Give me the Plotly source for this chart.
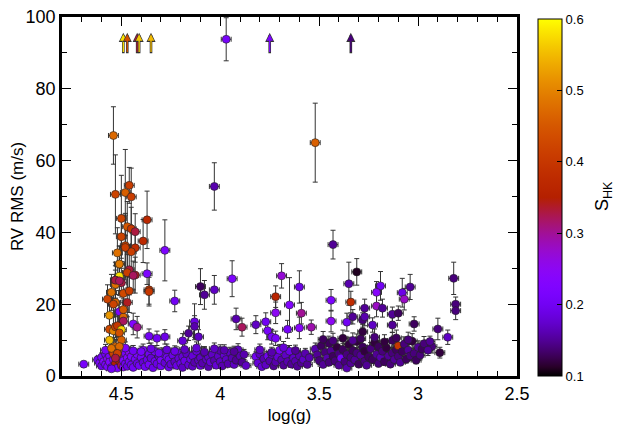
import math
import plotly.graph_objects as go

# --- upper / active stars ---
up_logg = [4.54, 4.53, 4.48, 4.46, 4.45, 4.50, 4.37, 4.47, 4.45, 4.43, 4.50, 4.28, 4.39,
           4.48, 4.43, 4.45, 4.52, 4.51, 4.03, 4.37, 4.51, 4.47, 4.43, 4.46, 4.53, 4.50,
           4.53, 4.10, 4.03, 3.94, 4.36, 3.52, 3.43, 3.97,
           4.36, 4.23, 4.08, 4.13, 4.13, 4.16, 4.11, 4.36, 4.32, 4.28, 4.19, 4.69,
           4.57, 4.55, 4.56, 4.56, 4.56, 4.55, 4.54, 4.53, 4.53, 4.51, 4.47, 4.44,
           4.49, 4.46, 4.47, 4.51, 4.49, 4.49, 4.44, 4.42, 4.52, 4.50, 4.51, 4.50,
           4.51, 4.52, 4.53, 4.51, 4.53, 4.54, 4.49, 4.48,
           3.31, 3.35, 3.69, 3.60, 3.72, 3.65, 3.72, 3.59, 3.44, 3.34, 3.44, 3.92,
           3.89, 3.82, 3.77, 3.76, 3.74, 3.72, 3.66, 3.60, 3.54, 3.36, 3.27, 3.28,
           3.33, 3.28,
           2.82, 2.81, 2.81, 3.19, 3.21, 3.04, 3.08, 3.07, 3.21, 3.18, 3.27, 3.13,
           3.10, 3.02, 2.90, 2.85, 2.94, 2.89, 2.95, 3.13, 3.23]
up_rms = [67.0, 50.6, 51.1, 53.1, 49.9, 43.9, 43.5, 41.6, 41.0, 40.2, 38.8, 35.0, 37.6,
          36.3, 35.7, 34.6, 34.3, 31.2, 52.8, 28.5, 27.8, 28.8, 28.1, 29.6, 26.7, 26.0,
          25.5, 24.9, 24.0, 27.1, 24.0, 65.0, 36.6, 93.8,
          23.5, 20.9, 22.6, 15.1, 13.8, 11.9, 10.9, 11.1, 10.5, 10.9, 9.8, 3.3,
          21.4, 23.3, 16.9, 13.0, 10.0, 7.7, 12.6, 13.7, 26.7, 31.2, 28.8, 28.0,
          23.0, 23.7, 20.5, 17.9, 16.4, 15.3, 14.5, 13.6, 14.0, 12.9, 12.0, 10.0,
          8.2, 6.3, 5.0, 26.5, 20.5, 20.0, 18.5, 35.8,
          29.0, 25.7, 27.9, 24.8, 22.1, 19.8, 17.6, 17.5, 21.1, 20.6, 15.3, 15.9,
          13.6, 14.3, 15.1, 12.6, 10.9, 10.5, 13.0, 13.4, 13.6, 15.0, 18.9, 15.6,
          16.5, 12.3,
          27.2, 20.0, 18.2, 25.1, 23.3, 24.8, 23.2, 21.4, 19.5, 18.9, 16.5, 17.2,
          17.5, 14.5, 13.1, 10.8, 9.6, 6.5, 7.2, 14.2, 14.2]
up_err = [8.0, 11.0, 12.0, 5.0, 8.0, 12.0, 8.0, 7.0, 6.0, 5.0, 6.0, 8.5, 6.0,
          9.0, 4.0, 6.0, 7.0, 5.0, 6.6, 3.0, 4.0, 6.0, 5.0, 7.0, 5.0, 4.0,
          4.0, 5.0, 4.0, 5.0, 4.0, 11.0, 4.0, 6.0,
          4.0, 3.0, 4.0, 5.0, 3.0, 2.0, 2.0, 2.0, 2.0, 2.0, 2.0, 0.8,
          4.0, 5.0, 3.0, 3.0, 3.0, 3.0, 4.0, 3.0, 4.0, 5.0, 5.0, 4.0,
          5.0, 6.0, 4.0, 3.0, 4.0, 3.0, 3.0, 3.0, 3.0, 3.0, 3.0, 2.5,
          2.0, 2.0, 1.5, 4.0, 4.0, 3.0, 3.0, 9.0,
          3.7, 6.0, 3.4, 4.5, 3.0, 7.6, 3.0, 3.0, 3.0, 3.0, 3.0, 3.0,
          2.5, 2.5, 2.5, 2.5, 2.0, 2.0, 2.5, 3.0, 2.0, 2.5, 2.5, 2.0,
          2.0, 2.0,
          4.5, 2.0, 2.5, 4.0, 3.0, 3.5, 4.0, 3.0, 3.0, 2.5, 2.5, 2.0,
          2.0, 2.0, 3.0, 2.0, 1.5, 1.5, 1.5, 2.0, 2.0]
up_shk = [0.47, 0.42, 0.46, 0.41, 0.41, 0.42, 0.37, 0.45, 0.40, 0.33, 0.42, 0.22, 0.37,
          0.42, 0.38, 0.41, 0.48, 0.49, 0.16, 0.22, 0.58, 0.41, 0.34, 0.33, 0.34, 0.33,
          0.48, 0.13, 0.17, 0.22, 0.40, 0.46, 0.15, 0.21,
          0.40, 0.20, 0.15, 0.19, 0.16, 0.15, 0.17, 0.20, 0.20, 0.19, 0.18, 0.21,
          0.42, 0.48, 0.52, 0.43, 0.55, 0.48, 0.50, 0.42, 0.33, 0.49, 0.41, 0.32,
          0.43, 0.41, 0.34, 0.22, 0.47, 0.32, 0.23, 0.30, 0.40, 0.57, 0.44, 0.46,
          0.47, 0.42, 0.33, 0.32, 0.47, 0.42, 0.45, 0.41,
          0.11, 0.16, 0.27, 0.19, 0.36, 0.23, 0.25, 0.30, 0.22, 0.38, 0.25, 0.16,
          0.32, 0.17, 0.20, 0.21, 0.21, 0.21, 0.21, 0.24, 0.29, 0.20, 0.15, 0.14,
          0.15, 0.12,
          0.14, 0.14, 0.14, 0.20, 0.24, 0.15, 0.19, 0.28, 0.28, 0.15, 0.16, 0.15,
          0.13, 0.13, 0.14, 0.17, 0.15, 0.12, 0.15, 0.15, 0.17]

# --- dense low-RMS band ---
band_logg = [4.62, 4.61, 4.60, 4.60, 4.59, 4.58, 4.58, 4.57, 4.57, 4.56, 4.56, 4.55, 4.55,
             4.54, 4.54, 4.53, 4.53, 4.52, 4.52, 4.51, 4.51, 4.50, 4.50, 4.50, 4.49, 4.49,
             4.48, 4.48, 4.47, 4.47, 4.46, 4.46, 4.45, 4.45,
             4.44, 4.43, 4.42, 4.42, 4.41, 4.40, 4.39, 4.39, 4.38, 4.37, 4.36, 4.36, 4.35,
             4.34, 4.33, 4.33, 4.32, 4.31, 4.30, 4.30, 4.29, 4.28, 4.27, 4.26, 4.26, 4.25,
             4.24, 4.23, 4.22, 4.22, 4.21, 4.20, 4.19, 4.19, 4.18, 4.17, 4.16, 4.15, 4.14,
             4.14, 4.13, 4.12, 4.11, 4.10, 4.10, 4.09, 4.08, 4.07, 4.06, 4.06, 4.05,
             4.04, 4.03, 4.02, 4.01, 4.00, 4.00, 3.99, 3.98, 3.97, 3.96, 3.95, 3.94, 3.93,
             3.92, 3.91, 3.90, 3.89, 3.88, 3.87,
             3.82, 3.81, 3.80, 3.79, 3.78, 3.77, 3.76, 3.75, 3.74, 3.73, 3.72, 3.71, 3.70,
             3.69, 3.68, 3.67, 3.66, 3.65, 3.64, 3.63, 3.62, 3.61, 3.60, 3.59, 3.58, 3.57,
             3.56, 3.55,
             3.52, 3.51, 3.50, 3.49, 3.48, 3.47, 3.46, 3.45, 3.45, 3.44, 3.43, 3.42, 3.41,
             3.40, 3.40, 3.39, 3.38, 3.37, 3.36, 3.36, 3.35, 3.34, 3.34, 3.33, 3.32, 3.31,
             3.31, 3.30, 3.29, 3.28, 3.27, 3.27, 3.26, 3.25,
             3.24, 3.23, 3.22, 3.21, 3.20, 3.20, 3.19, 3.18, 3.17, 3.16, 3.15, 3.14, 3.13,
             3.13, 3.12, 3.11, 3.10, 3.10, 3.09, 3.08, 3.07, 3.06, 3.05, 3.04, 3.03, 3.02,
             3.01, 3.00, 2.99, 2.98, 2.97, 2.93,
             4.58, 4.55, 4.52, 4.48, 4.44, 4.40, 4.35, 4.31, 4.27, 4.23, 4.18, 4.12,
             4.08, 4.03, 3.98, 3.93, 3.80, 3.74, 3.68, 3.62, 3.48, 3.43, 3.38, 3.33,
             3.29, 3.22, 3.17, 3.11, 3.05]
band_rms = [4.5, 3.6, 5.2, 2.8, 4.0, 6.1, 3.2, 4.8, 2.6, 5.6, 3.9, 7.0, 2.4,
            4.6, 6.2, 3.5, 8.2, 5.0, 2.2, 6.8, 4.2, 3.0, 7.5, 5.5, 2.5, 4.3,
            6.3, 3.4, 5.1, 2.7, 4.0, 6.6, 3.1, 5.4,
            2.4, 4.7, 3.5, 6.0, 2.9, 5.2, 3.8, 7.2, 2.6, 4.5, 3.2, 6.1, 5.0,
            2.3, 4.1, 6.8, 3.4, 5.5, 2.8, 4.4, 6.3, 3.7, 5.2, 2.5, 4.6, 3.3,
            5.8, 4.0, 2.9, 6.6, 4.9, 3.5, 2.4, 5.4, 4.2, 6.2, 3.1, 4.7, 2.7,
            5.6, 3.8, 6.9, 4.4, 2.9, 5.1, 3.6, 6.4, 4.6, 2.6, 5.3, 3.9,
            6.0, 4.3, 3.0, 5.5, 7.1, 4.0, 2.8, 5.8, 4.6, 3.4, 6.5, 5.0, 3.2,
            4.4, 7.3, 5.6, 3.8, 6.0, 2.9,
            5.4, 3.6, 6.1, 2.6, 4.8, 3.1, 5.5, 4.2, 6.0, 2.8, 3.9, 5.3, 7.2,
            4.5, 3.0, 5.8, 4.0, 6.9, 3.3, 5.0, 4.1, 2.7, 5.6, 3.7, 4.6, 6.3,
            3.2, 5.1,
            7.5, 5.9, 4.3, 8.4, 3.2, 6.6, 5.0, 9.1, 3.8, 7.0, 5.5, 4.2, 8.0,
            3.0, 6.2, 5.0, 7.4, 4.0, 2.2, 6.0, 8.8, 3.6, 5.2, 7.1, 4.5, 9.6,
            6.4, 3.3, 5.8, 8.1, 4.1, 6.9, 3.0, 5.3,
            7.6, 4.6, 9.3, 6.0, 3.5, 8.2, 5.2, 6.9, 4.0, 7.9, 5.6, 3.3, 9.9,
            6.4, 4.6, 7.3, 8.4, 5.5, 3.8, 6.8, 8.9, 4.7, 7.2, 5.6, 9.7, 6.3,
            4.4, 8.0, 5.8, 7.5, 9.0, 8.2,
            7.2, 2.0, 6.0, 7.8, 7.0, 6.8, 7.6, 6.4, 7.3, 6.9, 7.4, 7.8,
            6.7, 7.6, 7.2, 6.8, 7.3, 6.6, 7.9, 7.1, 10.2, 9.8, 10.5, 9.9,
            10.4, 10.8, 9.5, 10.6, 10.1]
band_err = [1.0, 0.8, 1.2, 0.7, 1.0, 1.4, 0.8, 1.1, 0.7, 1.3, 0.9, 1.6, 0.6,
            1.0, 1.5, 0.9, 2.0, 1.2, 0.6, 1.6, 1.0, 0.8, 1.8, 1.3, 0.7, 1.0,
            1.5, 0.8, 1.2, 0.7, 1.0, 1.5, 0.8, 1.3,
            0.6, 1.1, 0.9, 1.4, 0.7, 1.2, 0.9, 1.7, 0.7, 1.1, 0.8, 1.4, 1.2,
            0.6, 1.0, 1.6, 0.8, 1.3, 0.7, 1.0, 1.5, 0.9, 1.2, 0.6, 1.1, 0.8,
            1.4, 1.0, 0.7, 1.5, 1.1, 0.9, 0.6, 1.3, 1.0, 1.4, 0.8, 1.1, 0.7,
            1.3, 0.9, 1.6, 1.0, 0.7, 1.2, 0.9, 1.5, 1.1, 0.7, 1.2, 1.0,
            1.4, 1.0, 0.8, 1.3, 1.6, 1.0, 0.7, 1.3, 1.1, 0.8, 1.5, 1.2, 0.8,
            1.0, 1.7, 1.3, 0.9, 1.4, 0.7,
            1.3, 0.9, 1.4, 0.7, 1.1, 0.8, 1.3, 1.0, 1.4, 0.7, 0.9, 1.2, 1.6,
            1.0, 0.8, 1.3, 1.0, 1.6, 0.8, 1.2, 1.0, 0.7, 1.3, 0.9, 1.1, 1.4,
            0.8, 1.2,
            1.7, 1.4, 1.0, 1.9, 0.8, 1.5, 1.2, 2.0, 0.9, 1.6, 1.3, 1.0, 1.8,
            0.8, 1.4, 1.2, 1.7, 1.0, 0.6, 1.4, 2.0, 0.9, 1.2, 1.6, 1.1, 2.1,
            1.5, 0.8, 1.3, 1.8, 1.0, 1.6, 0.8, 1.2,
            1.7, 1.1, 2.0, 1.4, 0.9, 1.8, 1.2, 1.6, 1.0, 1.8, 1.3, 0.8, 2.2,
            1.5, 1.1, 1.6, 1.9, 1.3, 0.9, 1.5, 2.0, 1.1, 1.6, 1.3, 2.1, 1.4,
            1.0, 1.8, 1.3, 1.7, 2.0, 1.8,
            1.6, 0.5, 1.4, 1.7, 1.5, 1.5, 1.6, 1.4, 1.6, 1.5, 1.6, 1.7,
            1.5, 1.6, 1.5, 1.5, 1.6, 1.4, 1.7, 1.5, 2.2, 2.1, 2.3, 2.1,
            2.2, 2.3, 2.0, 2.2, 2.1]
band_shk = [0.20, 0.22, 0.21, 0.19, 0.23, 0.20, 0.21, 0.24, 0.22, 0.21, 0.23, 0.33, 0.20,
            0.22, 0.42, 0.35, 0.47, 0.45, 0.21, 0.40, 0.36, 0.33, 0.47, 0.30, 0.24, 0.22,
            0.21, 0.20, 0.23, 0.19, 0.21, 0.25, 0.20, 0.22,
            0.20, 0.21, 0.19, 0.22, 0.20, 0.21, 0.18, 0.22, 0.20, 0.19, 0.21, 0.20, 0.18,
            0.19, 0.20, 0.21, 0.19, 0.18, 0.20, 0.21, 0.19, 0.18, 0.20, 0.19, 0.20, 0.18,
            0.19, 0.17, 0.19, 0.20, 0.18, 0.19, 0.17, 0.18, 0.19, 0.17, 0.18, 0.19, 0.17,
            0.18, 0.16, 0.18, 0.17, 0.18, 0.17, 0.16, 0.18, 0.17, 0.16, 0.17, 0.18,
            0.17, 0.16, 0.18, 0.17, 0.16, 0.17, 0.16, 0.18, 0.17, 0.16, 0.17, 0.16, 0.17,
            0.15, 0.17, 0.16, 0.15, 0.16, 0.17,
            0.20, 0.18, 0.17, 0.18, 0.16, 0.17, 0.20, 0.16, 0.17, 0.15, 0.16, 0.18, 0.21,
            0.16, 0.15, 0.17, 0.16, 0.19, 0.15, 0.17, 0.16, 0.15, 0.16, 0.15, 0.17, 0.16,
            0.15, 0.16,
            0.16, 0.15, 0.14, 0.13, 0.15, 0.14, 0.16, 0.13, 0.14, 0.15, 0.13, 0.14, 0.12,
            0.15, 0.14, 0.21, 0.13, 0.14, 0.16, 0.14, 0.12, 0.15, 0.14, 0.13, 0.15, 0.12,
            0.14, 0.13, 0.15, 0.13, 0.14, 0.12, 0.15, 0.13,
            0.14, 0.13, 0.12, 0.15, 0.14, 0.13, 0.16, 0.14, 0.13, 0.12, 0.15, 0.14, 0.13,
            0.14, 0.15, 0.13, 0.40, 0.14, 0.15, 0.13, 0.14, 0.13, 0.15, 0.14, 0.12, 0.14,
            0.13, 0.15, 0.14, 0.13, 0.14, 0.14,
            0.21, 0.20, 0.23, 0.22, 0.20, 0.21, 0.19, 0.20, 0.18, 0.19, 0.17, 0.18,
            0.16, 0.17, 0.16, 0.15, 0.17, 0.16, 0.18, 0.15, 0.13, 0.14, 0.12, 0.15,
            0.13, 0.14, 0.12, 0.13, 0.14]

# lower limits (arrows at the top of the plot)
arrow_logg = [4.49, 4.47, 4.42, 4.41, 4.35, 3.75, 3.34]
arrow_shk = [0.58, 0.44, 0.33, 0.56, 0.55, 0.22, 0.14]

LOGG_ERR = 0.025
SHK_MIN, SHK_MAX = 0.1, 0.6


# gnuplot default pm3d palette (rgbformulae 7,5,15)
def pm3d(t):
    r = math.sqrt(t)
    g = t ** 3
    b = max(math.sin(2 * math.pi * t), 0)
    return "rgb(%d,%d,%d)" % (round(255 * r), round(255 * g), round(255 * b))


colorscale = [[i / 40, pm3d(i / 40)] for i in range(41)]

logg = band_logg + up_logg
rms = band_rms + up_rms
err = band_err + up_err
shk = band_shk + up_shk

fig = go.Figure()
fig.add_trace(go.Scatter(
    x=logg, y=rms, mode="markers",
    error_y=dict(type="data", array=err, color="#333", thickness=1, width=2.5),
    error_x=dict(type="constant", value=LOGG_ERR, color="#333", thickness=1, width=2.5),
    marker=dict(size=8, color=shk, colorscale=colorscale, cmin=SHK_MIN, cmax=SHK_MAX,
                line=dict(color="#222", width=0.6),
                colorbar=dict(
                    thickness=24, len=0.995, lenmode="fraction", y=0.497, yanchor="middle",
                    ypad=0, x=1.024, xanchor="left", outlinecolor="black", outlinewidth=1,
                    tickvals=[0.1, 0.2, 0.3, 0.4, 0.5, 0.6],
                    ticktext=["0.1", "0.2", "0.3", "0.4", "0.5", "0.6"],
                    ticks="inside", ticklen=5, tickcolor="black",
                    tickfont=dict(size=13, color="black"))),
    showlegend=False, hoverinfo="skip"))

# colorbar title, placed like the rotated gnuplot cblabel
fig.add_annotation(text="S<sub>HK</sub>", xref="paper", yref="paper", x=1.22, y=0.5,
                   textangle=-90, showarrow=False, font=dict(size=18, color="black"))

for xa, s in zip(arrow_logg, arrow_shk):
    col = pm3d((s - SHK_MIN) / (SHK_MAX - SHK_MIN))
    fig.add_annotation(x=xa, y=95.6, ax=xa, ay=89.5, xref="x", yref="y", axref="x", ayref="y",
                       text="", showarrow=True, arrowhead=2, arrowsize=0.7, arrowwidth=2.6,
                       arrowcolor="#333")
    fig.add_annotation(x=xa, y=95.2, ax=xa, ay=89.8, xref="x", yref="y", axref="x", ayref="y",
                       text="", showarrow=True, arrowhead=2, arrowsize=1.0, arrowwidth=1.3,
                       arrowcolor=col)

axis_common = dict(showline=True, linecolor="black", linewidth=2.5, mirror="ticks",
                   ticks="inside", ticklen=9, tickcolor="black", showgrid=False,
                   zeroline=False, ticklabeloverflow="allow",
                   tickfont=dict(size=18, color="black"))

fig.update_xaxes(range=[4.8, 2.5], tickvals=[4.5, 4, 3.5, 3, 2.5],
                 ticktext=["4.5", "4", "3.5", "3", "2.5"],
                 minor=dict(dtick=0.1, tick0=2.5, ticks="inside", ticklen=5, tickcolor="black"),
                 title=dict(text="log(g)", font=dict(size=17, color="black"), standoff=6),
                 **axis_common)
fig.update_yaxes(range=[0, 100], dtick=20,
                 minor=dict(dtick=10, ticks="inside", ticklen=5, tickcolor="black"),
                 title=dict(text="RV RMS (m/s)", font=dict(size=17, color="black"), standoff=8),
                 **axis_common)

# page body adds an 8px offset, so the figure is sized to fit the window
fig.update_layout(width=615, height=428,
                  margin=dict(l=54, r=106, t=9, b=60, autoexpand=False),
                  plot_bgcolor="white", paper_bgcolor="white",
                  font=dict(family="Liberation Sans, Arial, sans-serif", color="black"))

fig.write_html("out.html")
